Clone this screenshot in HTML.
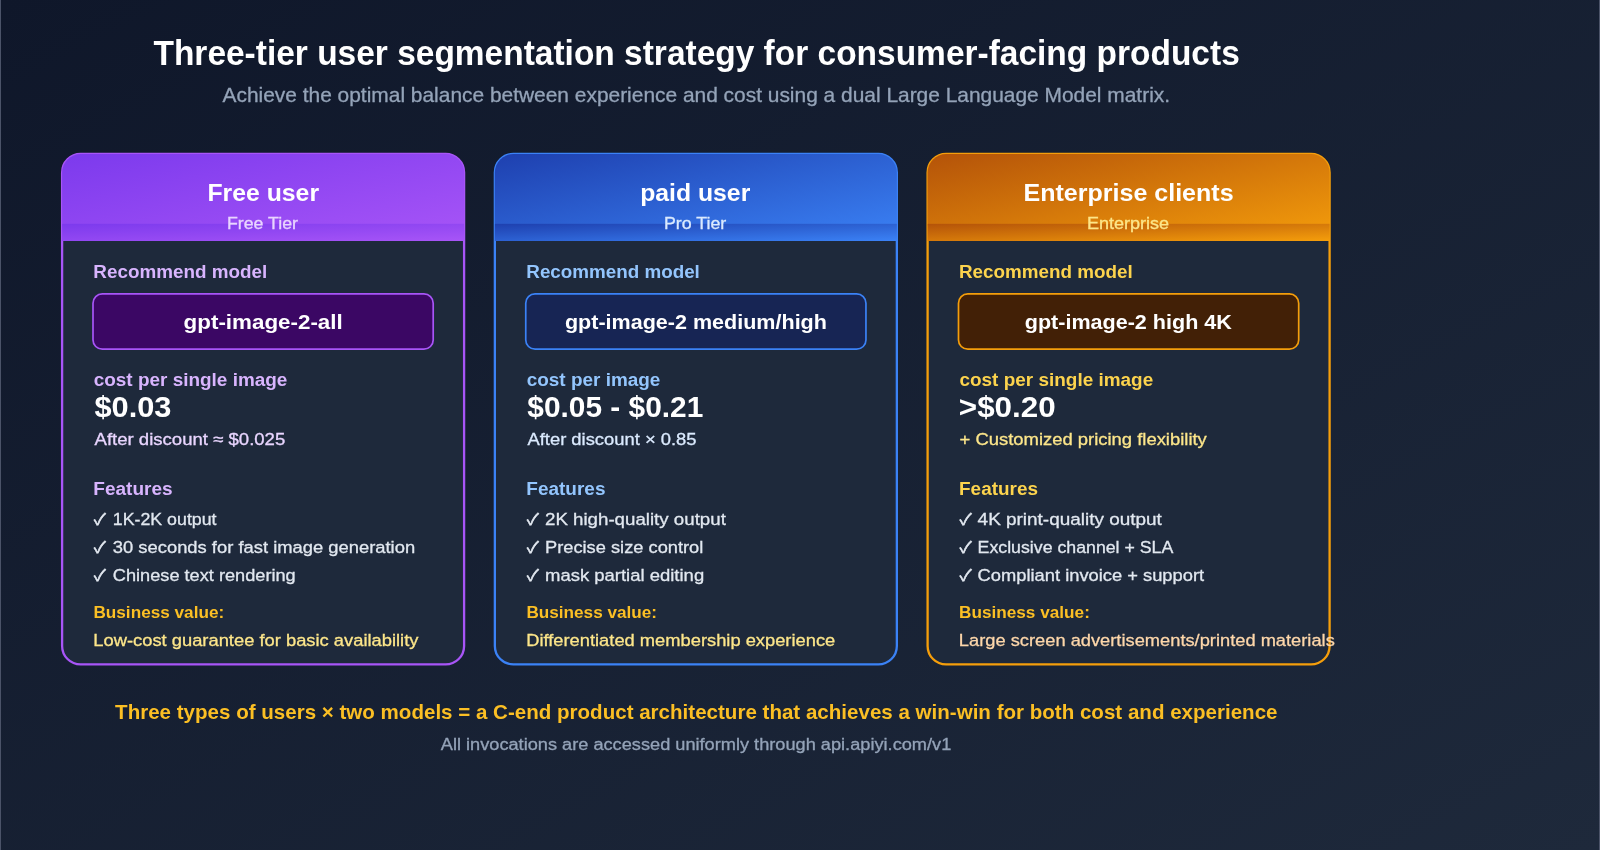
<!DOCTYPE html>
<html lang="en">
<head>
<meta charset="utf-8">
<title>Three-tier user segmentation strategy</title>
<style>
html,body{margin:0;padding:0;background:#0f172a;}
body{width:1600px;height:850px;overflow:hidden;}
svg{display:block;will-change:transform;}
svg text{font-family:"Liberation Sans", "DejaVu Sans", sans-serif;}
svg text.ck{font-family:"Noto Sans CJK JP", "DejaVu Sans", sans-serif;}
</style>
</head>
<body>
<svg width="1600" height="850" viewBox="0 0 1600 850">
<defs>
<linearGradient id="bg" x1="0" y1="0" x2="1" y2="1"><stop offset="0" stop-color="#0f172a"/><stop offset="1" stop-color="#1e293b"/></linearGradient>
<linearGradient id="gp" x1="0" y1="0" x2="1" y2="1"><stop offset="0" stop-color="#7c3aed"/><stop offset="1" stop-color="#a855f7"/></linearGradient>
<linearGradient id="gb" x1="0" y1="0" x2="1" y2="1"><stop offset="0" stop-color="#1e40af"/><stop offset="1" stop-color="#3b82f6"/></linearGradient>
<linearGradient id="go" x1="0" y1="0" x2="1" y2="1"><stop offset="0" stop-color="#b45309"/><stop offset="1" stop-color="#f59e0b"/></linearGradient>
</defs>
<rect x="0" y="0" width="1600" height="850" fill="url(#bg)"/>
<rect x="0" y="0" width="1" height="850" fill="#4b5368"/>
<rect x="1599" y="0" width="1" height="850" fill="#4b5368"/>
<rect x="62.10" y="154.0" width="402.0" height="510.4" rx="18.5" fill="#1e293b" stroke="#a855f7" stroke-width="2.3"/>
<rect x="62.10" y="154.0" width="402.0" height="87" rx="18.5" fill="url(#gp)"/>
<rect x="62.10" y="223.8" width="402.0" height="17.2" fill="url(#gp)"/>
<rect x="93.00" y="293.9" width="340.2" height="55.3" rx="9.3" fill="#3b0764" stroke="#a855f7" stroke-width="1.7"/>
<rect x="494.85" y="154.0" width="402.0" height="510.4" rx="18.5" fill="#1e293b" stroke="#3b82f6" stroke-width="2.3"/>
<rect x="494.85" y="154.0" width="402.0" height="87" rx="18.5" fill="url(#gb)"/>
<rect x="494.85" y="223.8" width="402.0" height="17.2" fill="url(#gb)"/>
<rect x="525.75" y="293.9" width="340.2" height="55.3" rx="9.3" fill="#172554" stroke="#3b82f6" stroke-width="1.7"/>
<rect x="927.60" y="154.0" width="402.0" height="510.4" rx="18.5" fill="#1e293b" stroke="#f59e0b" stroke-width="2.3"/>
<rect x="927.60" y="154.0" width="402.0" height="87" rx="18.5" fill="url(#go)"/>
<rect x="927.60" y="223.8" width="402.0" height="17.2" fill="url(#go)"/>
<rect x="958.50" y="293.9" width="340.2" height="55.3" rx="9.3" fill="#422006" stroke="#f59e0b" stroke-width="1.7"/>
<text x="153.47" y="65.00" font-size="34.45" font-weight="700" fill="#ffffff" textLength="1086.29" lengthAdjust="spacingAndGlyphs">Three-tier user segmentation strategy for consumer-facing products</text>
<text x="222.53" y="102.00" font-size="19.80" fill="#94a3b8" stroke="#94a3b8" stroke-width="0.3" textLength="947.54" lengthAdjust="spacingAndGlyphs">Achieve the optimal balance between experience and cost using a dual Large Language Model matrix.</text>
<text x="207.46" y="200.75" font-size="24.59" font-weight="700" fill="#ffffff" textLength="111.60" lengthAdjust="spacingAndGlyphs">Free user</text>
<text x="226.96" y="229.00" font-size="16.05" fill="#e9d5ff" stroke="#e9d5ff" stroke-width="0.3" textLength="70.98" lengthAdjust="spacingAndGlyphs">Free Tier</text>
<text x="93.30" y="277.75" font-size="18.44" font-weight="700" fill="#d8b4fe" textLength="173.94" lengthAdjust="spacingAndGlyphs">Recommend model</text>
<text x="183.60" y="329.20" font-size="20.88" font-weight="700" fill="#ffffff" textLength="159.16" lengthAdjust="spacingAndGlyphs">gpt-image-2-all</text>
<text x="93.74" y="385.50" font-size="18.44" font-weight="700" fill="#d8b4fe" textLength="193.65" lengthAdjust="spacingAndGlyphs">cost per single image</text>
<text x="94.44" y="416.50" font-size="29.47" font-weight="700" fill="#ffffff" textLength="77.01" lengthAdjust="spacingAndGlyphs">$0.03</text>
<text x="94.51" y="445.00" font-size="17.33" fill="#e9d5ff" stroke="#e9d5ff" stroke-width="0.3" textLength="190.76" lengthAdjust="spacingAndGlyphs">After discount ≈ $0.025</text>
<text x="93.27" y="495.00" font-size="18.44" font-weight="700" fill="#d8b4fe" textLength="79.31" lengthAdjust="spacingAndGlyphs">Features</text>
<text x="93.81" y="525.00" class="ck" font-size="15.81" fill="#e2e8f0" stroke="#e2e8f0" stroke-width="0.45" textLength="12.22" lengthAdjust="spacingAndGlyphs">✓</text>
<text x="112.80" y="525.10" font-size="17.33" fill="#e2e8f0" stroke="#e2e8f0" stroke-width="0.3" textLength="103.74" lengthAdjust="spacingAndGlyphs">1K-2K output</text>
<text x="93.81" y="552.90" class="ck" font-size="15.81" fill="#e2e8f0" stroke="#e2e8f0" stroke-width="0.45" textLength="12.22" lengthAdjust="spacingAndGlyphs">✓</text>
<text x="112.80" y="553.00" font-size="17.33" fill="#e2e8f0" stroke="#e2e8f0" stroke-width="0.3" textLength="302.32" lengthAdjust="spacingAndGlyphs">30 seconds for fast image generation</text>
<text x="93.81" y="580.80" class="ck" font-size="15.81" fill="#e2e8f0" stroke="#e2e8f0" stroke-width="0.45" textLength="12.22" lengthAdjust="spacingAndGlyphs">✓</text>
<text x="112.80" y="580.90" font-size="17.33" fill="#e2e8f0" stroke="#e2e8f0" stroke-width="0.3" textLength="182.92" lengthAdjust="spacingAndGlyphs">Chinese text rendering</text>
<text x="93.43" y="618.00" font-size="17.17" font-weight="700" fill="#fbbf24" textLength="130.77" lengthAdjust="spacingAndGlyphs">Business value:</text>
<text x="93.31" y="646.00" font-size="17.33" fill="#fde68a" stroke="#fde68a" stroke-width="0.3" textLength="325.18" lengthAdjust="spacingAndGlyphs">Low-cost guarantee for basic availability</text>
<text x="640.18" y="200.75" font-size="24.59" font-weight="700" fill="#ffffff" textLength="110.11" lengthAdjust="spacingAndGlyphs">paid user</text>
<text x="664.00" y="229.00" font-size="16.05" fill="#dbeafe" stroke="#dbeafe" stroke-width="0.3" textLength="62.27" lengthAdjust="spacingAndGlyphs">Pro Tier</text>
<text x="526.30" y="277.75" font-size="18.44" font-weight="700" fill="#93c5fd" textLength="173.55" lengthAdjust="spacingAndGlyphs">Recommend model</text>
<text x="564.96" y="329.20" font-size="20.88" font-weight="700" fill="#ffffff" textLength="261.98" lengthAdjust="spacingAndGlyphs">gpt-image-2 medium/high</text>
<text x="526.73" y="385.50" font-size="18.44" font-weight="700" fill="#93c5fd" textLength="133.64" lengthAdjust="spacingAndGlyphs">cost per image</text>
<text x="527.39" y="416.50" font-size="29.47" font-weight="700" fill="#ffffff" textLength="175.95" lengthAdjust="spacingAndGlyphs">$0.05 - $0.21</text>
<text x="527.44" y="445.00" font-size="17.33" fill="#dbeafe" stroke="#dbeafe" stroke-width="0.3" textLength="169.14" lengthAdjust="spacingAndGlyphs">After discount × 0.85</text>
<text x="526.35" y="495.00" font-size="18.44" font-weight="700" fill="#93c5fd" textLength="79.12" lengthAdjust="spacingAndGlyphs">Features</text>
<text x="526.81" y="525.00" class="ck" font-size="15.81" fill="#e2e8f0" stroke="#e2e8f0" stroke-width="0.45" textLength="12.22" lengthAdjust="spacingAndGlyphs">✓</text>
<text x="545.00" y="525.10" font-size="17.33" fill="#e2e8f0" stroke="#e2e8f0" stroke-width="0.3" textLength="180.83" lengthAdjust="spacingAndGlyphs">2K high-quality output</text>
<text x="526.81" y="552.90" class="ck" font-size="15.81" fill="#e2e8f0" stroke="#e2e8f0" stroke-width="0.45" textLength="12.22" lengthAdjust="spacingAndGlyphs">✓</text>
<text x="545.00" y="553.00" font-size="17.33" fill="#e2e8f0" stroke="#e2e8f0" stroke-width="0.3" textLength="158.34" lengthAdjust="spacingAndGlyphs">Precise size control</text>
<text x="526.81" y="580.80" class="ck" font-size="15.81" fill="#e2e8f0" stroke="#e2e8f0" stroke-width="0.45" textLength="12.22" lengthAdjust="spacingAndGlyphs">✓</text>
<text x="545.00" y="580.90" font-size="17.33" fill="#e2e8f0" stroke="#e2e8f0" stroke-width="0.3" textLength="159.17" lengthAdjust="spacingAndGlyphs">mask partial editing</text>
<text x="526.43" y="618.00" font-size="17.17" font-weight="700" fill="#fbbf24" textLength="130.65" lengthAdjust="spacingAndGlyphs">Business value:</text>
<text x="526.20" y="646.00" font-size="17.33" fill="#fde68a" stroke="#fde68a" stroke-width="0.3" textLength="309.05" lengthAdjust="spacingAndGlyphs">Differentiated membership experience</text>
<text x="1023.52" y="200.75" font-size="24.59" font-weight="700" fill="#ffffff" textLength="210.04" lengthAdjust="spacingAndGlyphs">Enterprise clients</text>
<text x="1086.96" y="229.00" font-size="16.05" fill="#fde68a" stroke="#fde68a" stroke-width="0.3" textLength="82.19" lengthAdjust="spacingAndGlyphs">Enterprise</text>
<text x="958.97" y="277.75" font-size="18.44" font-weight="700" fill="#fcd34d" textLength="173.68" lengthAdjust="spacingAndGlyphs">Recommend model</text>
<text x="1024.74" y="329.20" font-size="20.88" font-weight="700" fill="#ffffff" textLength="207.12" lengthAdjust="spacingAndGlyphs">gpt-image-2 high 4K</text>
<text x="959.47" y="385.50" font-size="18.44" font-weight="700" fill="#fcd34d" textLength="193.75" lengthAdjust="spacingAndGlyphs">cost per single image</text>
<text x="958.89" y="416.50" font-size="29.47" font-weight="700" fill="#ffffff" textLength="96.78" lengthAdjust="spacingAndGlyphs">&gt;$0.20</text>
<text x="959.57" y="445.00" font-size="17.33" fill="#fde68a" stroke="#fde68a" stroke-width="0.3" textLength="247.24" lengthAdjust="spacingAndGlyphs">+ Customized pricing flexibility</text>
<text x="959.04" y="495.00" font-size="18.44" font-weight="700" fill="#fcd34d" textLength="78.94" lengthAdjust="spacingAndGlyphs">Features</text>
<text x="959.64" y="525.00" class="ck" font-size="15.81" fill="#e2e8f0" stroke="#e2e8f0" stroke-width="0.45" textLength="12.39" lengthAdjust="spacingAndGlyphs">✓</text>
<text x="977.60" y="525.10" font-size="17.33" fill="#e2e8f0" stroke="#e2e8f0" stroke-width="0.3" textLength="184.27" lengthAdjust="spacingAndGlyphs">4K print-quality output</text>
<text x="959.64" y="552.90" class="ck" font-size="15.81" fill="#e2e8f0" stroke="#e2e8f0" stroke-width="0.45" textLength="12.39" lengthAdjust="spacingAndGlyphs">✓</text>
<text x="977.60" y="553.00" font-size="17.33" fill="#e2e8f0" stroke="#e2e8f0" stroke-width="0.3" textLength="195.71" lengthAdjust="spacingAndGlyphs">Exclusive channel + SLA</text>
<text x="959.64" y="580.80" class="ck" font-size="15.81" fill="#e2e8f0" stroke="#e2e8f0" stroke-width="0.45" textLength="12.39" lengthAdjust="spacingAndGlyphs">✓</text>
<text x="977.60" y="580.90" font-size="17.33" fill="#e2e8f0" stroke="#e2e8f0" stroke-width="0.3" textLength="226.50" lengthAdjust="spacingAndGlyphs">Compliant invoice + support</text>
<text x="959.06" y="618.00" font-size="17.17" font-weight="700" fill="#fbbf24" textLength="130.81" lengthAdjust="spacingAndGlyphs">Business value:</text>
<text x="958.86" y="646.00" font-size="17.33" fill="#fed7aa" stroke="#fed7aa" stroke-width="0.3" textLength="375.96" lengthAdjust="spacingAndGlyphs">Large screen advertisements/printed materials</text>
<text x="115.09" y="718.70" font-size="19.61" font-weight="700" fill="#fbbf24" textLength="1162.46" lengthAdjust="spacingAndGlyphs">Three types of users × two models = a C-end product architecture that achieves a win-win for both cost and experience</text>
<text x="440.79" y="750.00" font-size="16.05" fill="#94a3b8" stroke="#94a3b8" stroke-width="0.3" textLength="510.48" lengthAdjust="spacingAndGlyphs">All invocations are accessed uniformly through api.apiyi.com/v1</text>
</svg>
</body>
</html>
